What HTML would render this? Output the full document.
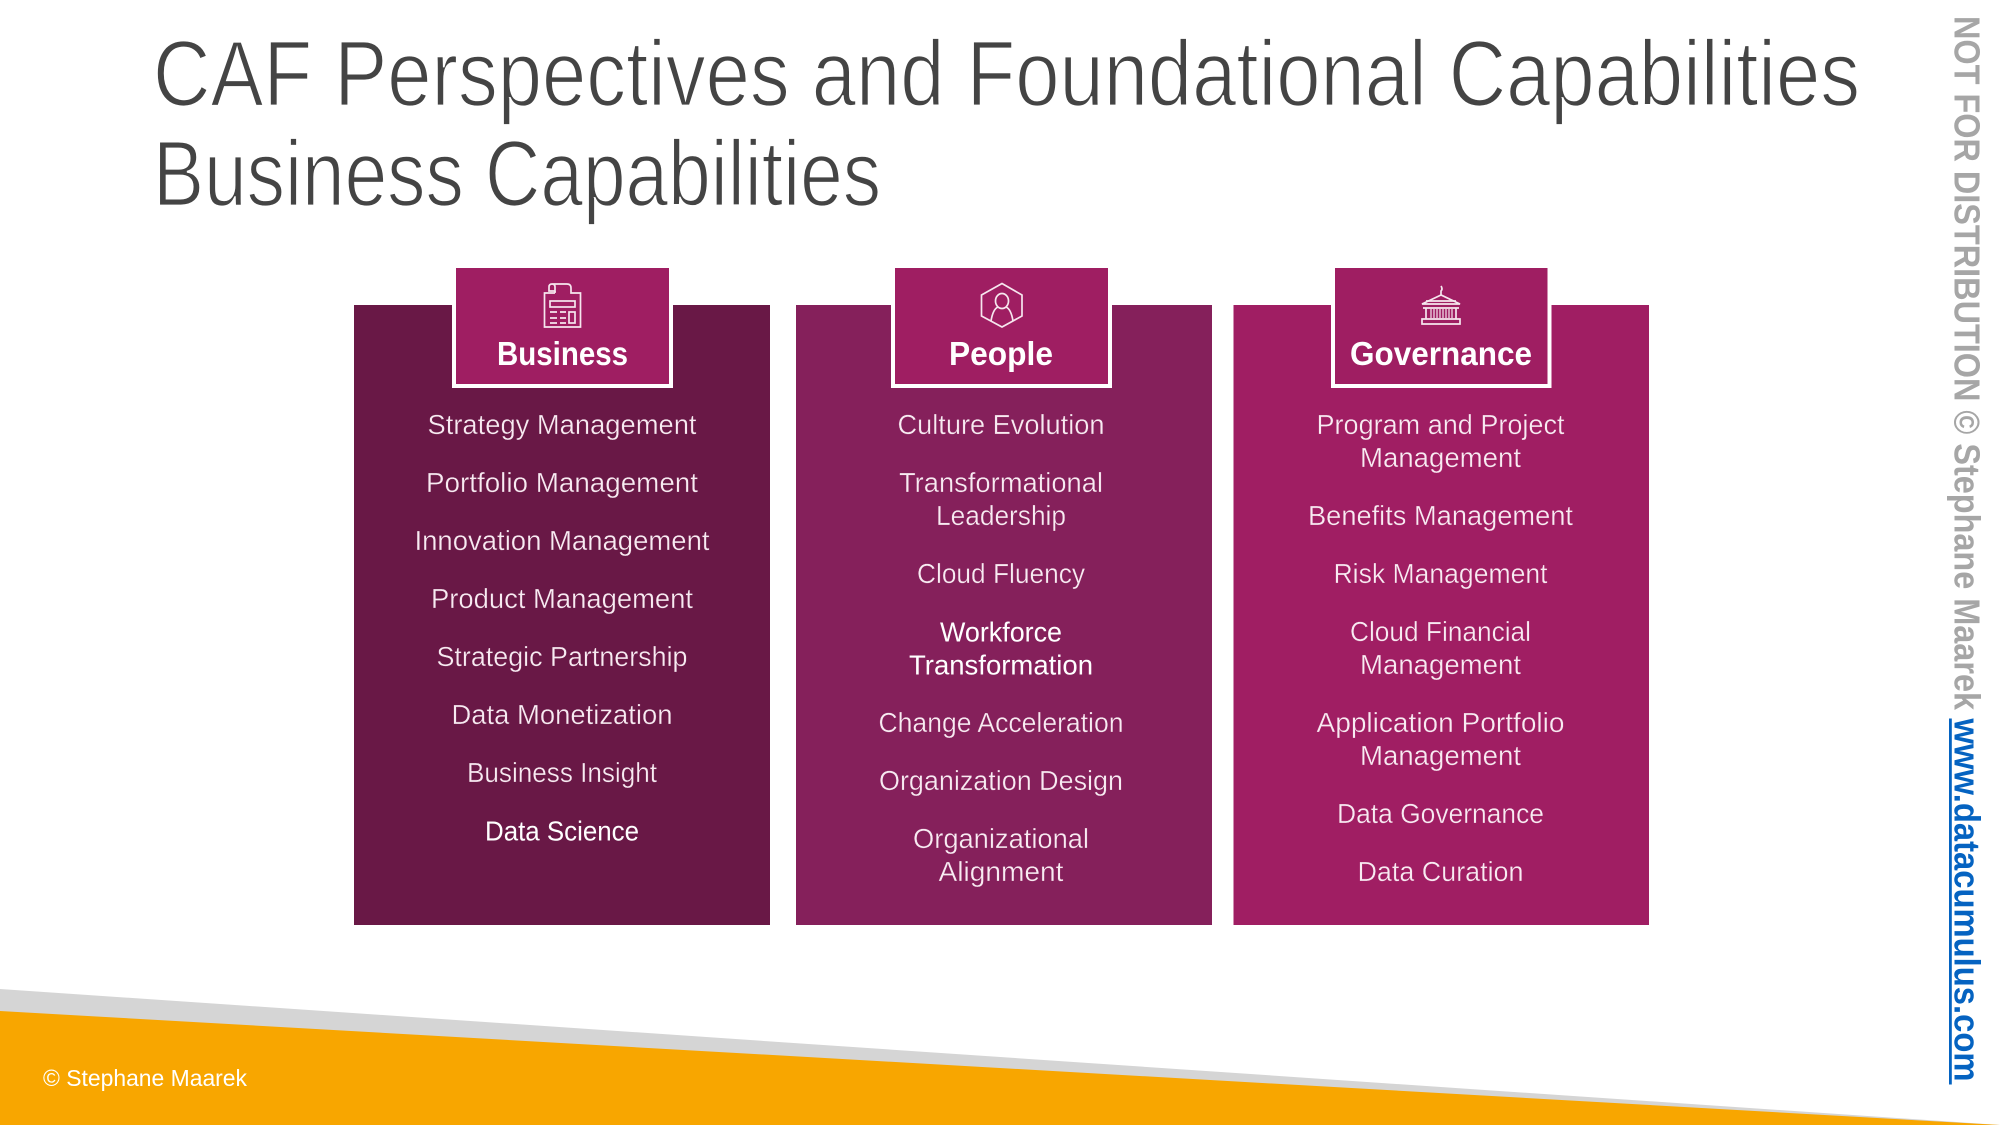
<!DOCTYPE html>
<html lang="en">
<head>
<meta charset="utf-8">
<title>CAF Perspectives and Foundational Capabilities</title>
<style>
html,body{margin:0;padding:0;background:#fff;width:2000px;height:1125px;overflow:hidden}
svg{display:block}
text{font-family:"Liberation Sans",sans-serif}
.title{font-size:93px;fill:#444;stroke:#fff;stroke-width:1.8px;paint-order:normal}
.item{font-size:27.500px;fill:#f8ebf2;text-anchor:middle;stroke-width:.35px}
.c1 .item{stroke:#691846}
.c2 .item{stroke:#85205b}
.c3 .item{stroke:#a01e63}
.item.hi{fill:#fff;stroke:none}
.tab{font-size:33px;font-weight:bold;fill:#fff;text-anchor:middle}
.ic{fill:none;stroke:#f6e6ee;stroke-width:1.700}
</style>
</head>
<body>
<svg width="2000" height="1125" viewBox="0 0 2000 1125" xmlns="http://www.w3.org/2000/svg">
<rect width="2000" height="1125" fill="#fff"/>

<text class="title" x="153" y="105.500" textLength="1707" lengthAdjust="spacingAndGlyphs">CAF Perspectives and Foundational Capabilities</text>
<text class="title" x="153" y="205.500" textLength="728" lengthAdjust="spacingAndGlyphs">Business Capabilities</text>

<!-- Business -->
<g class="c1">
<rect x="354" y="305" width="416" height="620" fill="#691846"/>
<rect x="452" y="268" width="221" height="120" fill="#fff"/>
<rect x="456" y="268" width="213" height="116" fill="#9f1e62"/>
<g class="ic">
<path d="M555 293H544.500V327H580.500V293H571V288Q571 284 567 284H552Q549 284 549 287V291H555V287Q555 284 552 284"/>
<path d="M555 291V293"/>
<rect x="550" y="301" width="25" height="6"/>
<path d="M550 312H557M560 312H566M550 318H557M560 318H566M550 323H557M560 323H566"/>
<rect x="569" y="312" width="6" height="11"/>
</g>
<text class="tab" x="562.500" y="365" textLength="131" lengthAdjust="spacingAndGlyphs">Business</text>
<text class="item" x="562" y="434" textLength="269" lengthAdjust="spacingAndGlyphs">Strategy Management</text>
<text class="item" x="562" y="492" textLength="272" lengthAdjust="spacingAndGlyphs">Portfolio Management</text>
<text class="item" x="562" y="550" textLength="295" lengthAdjust="spacingAndGlyphs">Innovation Management</text>
<text class="item" x="562" y="608" textLength="262" lengthAdjust="spacingAndGlyphs">Product Management</text>
<text class="item" x="562" y="666" textLength="251" lengthAdjust="spacingAndGlyphs">Strategic Partnership</text>
<text class="item" x="562" y="724" textLength="221" lengthAdjust="spacingAndGlyphs">Data Monetization</text>
<text class="item" x="562" y="782" textLength="190" lengthAdjust="spacingAndGlyphs">Business Insight</text>
<text class="item hi" x="562" y="840.500" textLength="154" lengthAdjust="spacingAndGlyphs">Data Science</text>
</g>

<!-- People -->
<g class="c2">
<rect x="796" y="305" width="416" height="620" fill="#85205b"/>
<rect x="891" y="268" width="221" height="120" fill="#fff"/>
<rect x="895" y="268" width="213" height="116" fill="#9f1e62"/>
<g class="ic">
<path d="M1002 283.500L1022 295V316L1002 327L981.500 316V295Z"/>
<ellipse cx="1002" cy="301" rx="6.500" ry="7.500"/>
<path d="M991 321Q993 309 998 307M1013 321Q1011 309 1006 307"/>
</g>
<text class="tab" x="1001" y="365" textLength="104" lengthAdjust="spacingAndGlyphs">People</text>
<text class="item" x="1001" y="434" textLength="207" lengthAdjust="spacingAndGlyphs">Culture Evolution</text>
<text class="item" x="1001" y="492" textLength="204" lengthAdjust="spacingAndGlyphs">Transformational</text>
<text class="item" x="1001" y="525" textLength="130" lengthAdjust="spacingAndGlyphs">Leadership</text>
<text class="item" x="1001" y="583" textLength="168" lengthAdjust="spacingAndGlyphs">Cloud Fluency</text>
<text class="item hi" x="1001" y="641.500" textLength="122" lengthAdjust="spacingAndGlyphs">Workforce</text>
<text class="item hi" x="1001" y="674.500" textLength="184" lengthAdjust="spacingAndGlyphs">Transformation</text>
<text class="item" x="1001" y="732" textLength="245" lengthAdjust="spacingAndGlyphs">Change Acceleration</text>
<text class="item" x="1001" y="790" textLength="244" lengthAdjust="spacingAndGlyphs">Organization Design</text>
<text class="item" x="1001" y="848" textLength="176" lengthAdjust="spacingAndGlyphs">Organizational</text>
<text class="item" x="1001" y="881" textLength="125" lengthAdjust="spacingAndGlyphs">Alignment</text>
</g>

<!-- Governance -->
<g class="c3">
<rect x="1233.500" y="305" width="415.500" height="620" fill="#a01e63"/>
<rect x="1331" y="268" width="220.500" height="120" fill="#fff"/>
<rect x="1335" y="268" width="212.500" height="116" fill="#9f1e62"/>
<g class="ic">
<path d="M1441 295V291Q1443 289 1441 286"/>
<path d="M1441 295L1422 304H1460Z"/>
<path d="M1426 301H1456M1423 308H1459M1426 308V319M1456 308V319M1422 319H1460V324H1422Z"/>
<path d="M1431 309V318M1434 309V318M1437 309V318M1440 309V318M1443 309V318M1446 309V318M1449 309V318M1452 309V318" stroke-width="1.200"/>
</g>
<text class="tab" x="1441" y="365" textLength="182" lengthAdjust="spacingAndGlyphs">Governance</text>
<text class="item" x="1440.500" y="434" textLength="248" lengthAdjust="spacingAndGlyphs">Program and Project</text>
<text class="item" x="1440.500" y="467" textLength="161" lengthAdjust="spacingAndGlyphs">Management</text>
<text class="item" x="1440.500" y="525" textLength="265" lengthAdjust="spacingAndGlyphs">Benefits Management</text>
<text class="item" x="1440.500" y="583" textLength="214" lengthAdjust="spacingAndGlyphs">Risk Management</text>
<text class="item" x="1440.500" y="641" textLength="181" lengthAdjust="spacingAndGlyphs">Cloud Financial</text>
<text class="item" x="1440.500" y="674" textLength="161" lengthAdjust="spacingAndGlyphs">Management</text>
<text class="item" x="1440.500" y="732" textLength="248" lengthAdjust="spacingAndGlyphs">Application Portfolio</text>
<text class="item" x="1440.500" y="765" textLength="161" lengthAdjust="spacingAndGlyphs">Management</text>
<text class="item" x="1440.500" y="823" textLength="207" lengthAdjust="spacingAndGlyphs">Data Governance</text>
<text class="item" x="1440.500" y="881" textLength="166" lengthAdjust="spacingAndGlyphs">Data Curation</text>
</g>

<!-- Footer band -->
<polygon points="0,989 2000,1125 0,1125" fill="#d5d5d5"/>
<polygon points="0,1011 2000,1125 0,1125" fill="#f8a600"/>
<text x="43" y="1086" font-size="23" fill="#fff" textLength="204" lengthAdjust="spacingAndGlyphs">© Stephane Maarek</text>

<!-- Vertical watermark -->
<text transform="translate(1954.500,16) rotate(90)" font-size="36" font-weight="bold" fill="#a6a6a6" textLength="694" lengthAdjust="spacingAndGlyphs">NOT FOR DISTRIBUTION © Stephane Maarek</text>
<text transform="translate(1954.500,718.500) rotate(90)" font-size="36" font-weight="bold" fill="#0563c1" textLength="363" lengthAdjust="spacingAndGlyphs">www.datacumulus.com</text>
<rect x="1949" y="718.500" width="2.800" height="366" fill="#0563c1"/>
</svg>
</body>
</html>
